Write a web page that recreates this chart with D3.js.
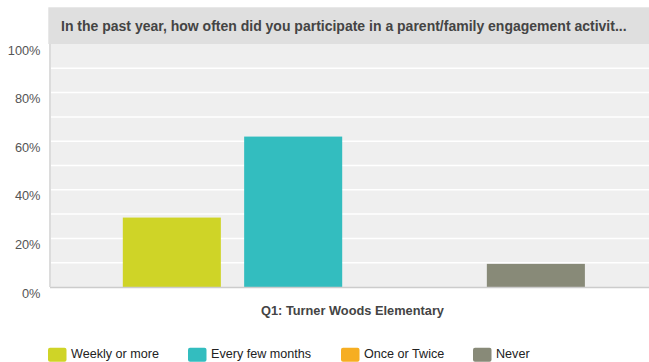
<!DOCTYPE html>
<html><head><meta charset="utf-8">
<script src="https://cdn.jsdelivr.net/npm/d3@7"></script>
<style>body{margin:0;background:#fff;}svg{display:block;font-family:"Liberation Sans",Arial,sans-serif;}</style>
</head><body>
<svg id="c" width="649" height="362"></svg>
<script>
const title = "In the past year, how often did you participate in a parent/family engagement activit...";
const category = "Q1: Turner Woods Elementary";
const seriesNames = ["Weekly or more","Every few months","Once or Twice","Never"];
const seriesValues = [28.57, 61.9, 0, 9.52];
const seriesColors = ["#cfd427","#33bdbf","#f6ae22","#888a78"];
const yTicks = [0,20,40,60,80,100];
const gridTicks = [10,20,30,40,50,60,70,80,90];

const svg = d3.select("#c");
const L = 50, R = 649, T = 44, B = 287;

svg.append("rect").attr("x",48.3).attr("y",7.3).attr("width",649-48.3).attr("height",36.7).attr("fill","#dfdfdf");
svg.append("text").attr("x",61).attr("y",30.5).attr("font-size",14).attr("font-weight","bold").attr("fill","#444").text(title);

svg.append("rect").attr("x",L).attr("y",T).attr("width",R-L).attr("height",B-T).attr("fill","#efefef");

const y = d3.scaleLinear().domain([0,100]).range([B,T]);
svg.selectAll(".g").data(gridTicks).enter().append("line")
  .attr("x1",L).attr("x2",R).attr("y1",d=>y(d)).attr("y2",d=>y(d))
  .attr("stroke","#fff").attr("stroke-width",1.5);

const x0 = d3.scaleBand().domain([category]).range([L,657.7]).padding(0);
const x1 = d3.scaleBand().domain(seriesNames).range([0,x0.bandwidth()]).paddingInner(0.192).paddingOuter(0.6);

svg.selectAll(".bar").data(seriesNames).enter().append("rect")
  .attr("x",d=>x0(category)+x1(d))
  .attr("width",x1.bandwidth())
  .attr("y",(d,i)=>y(seriesValues[i]))
  .attr("height",(d,i)=>B-y(seriesValues[i]))
  .attr("fill",(d,i)=>seriesColors[i]);

svg.append("line").attr("x1",L).attr("x2",R).attr("y1",B+0.5).attr("y2",B+0.5).attr("stroke","#cccccc").attr("stroke-width",1.5);
svg.append("line").attr("x1",L).attr("x2",L).attr("y1",T).attr("y2",B).attr("stroke","#dcdcdc").attr("stroke-width",2);

const yAxis = d3.axisLeft(y).tickValues(yTicks).tickFormat(d=>d+"%").tickSize(0).tickPadding(0);
const ga = svg.append("g").attr("transform",`translate(40.5,6)`).call(yAxis);
ga.select(".domain").remove();
ga.selectAll("text").attr("font-size",12.8).attr("fill","#555").attr("font-family","Liberation Sans, Arial, sans-serif");

svg.append("text").attr("x",352.5).attr("y",314.5).attr("text-anchor","middle")
  .attr("font-size",12.8).attr("font-weight","bold").attr("fill","#444").text(category);

const legX = [48,188,341,473];
const lg = svg.selectAll(".lg").data(seriesNames).enter().append("g").attr("transform",(d,i)=>`translate(${legX[i]},347.7)`);
lg.append("rect").attr("width",18.5).attr("height",14).attr("rx",2).attr("fill",(d,i)=>seriesColors[i]);
lg.append("text").attr("x",23).attr("y",10.5).attr("font-size",12.6).attr("fill","#222").text(d=>d);
</script>
</body></html>
